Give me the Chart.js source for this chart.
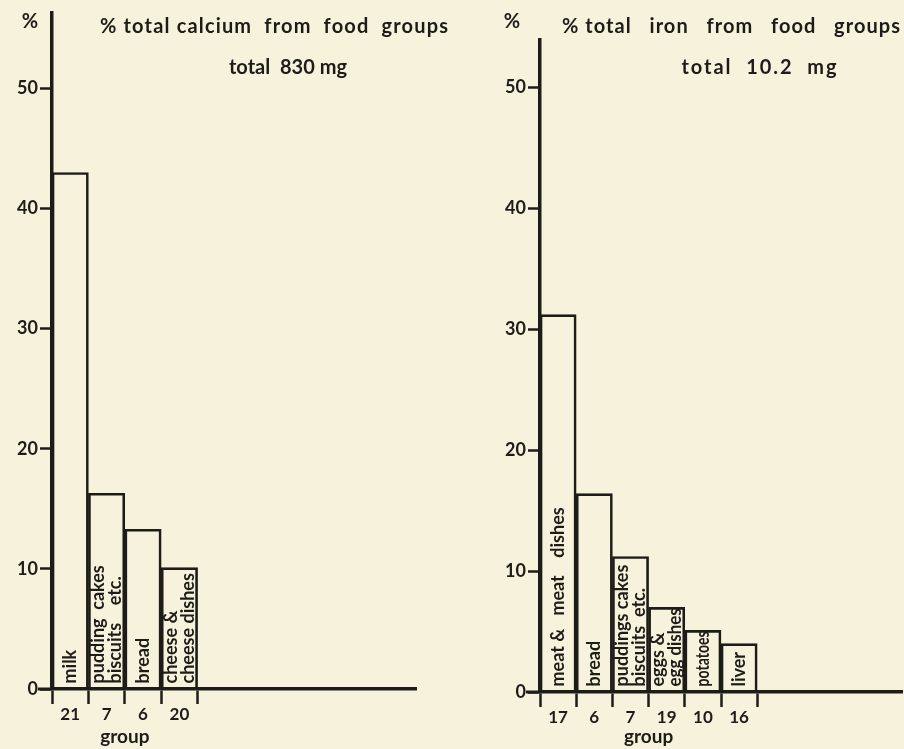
<!DOCTYPE html>
<html>
<head>
<meta charset="utf-8">
<script src="https://cdn.jsdelivr.net/npm/chart.js@4.4.0/dist/chart.umd.min.js"></script>
<style>
    html, body { margin: 0; padding: 0; background: #f7f2db; }
    #wrap { position: relative; width: 904px; height: 749px; overflow: hidden; }
    .panel { position: absolute; top: 0; }
    #calcium-box { left: 0; }
    #iron-box { left: 470px; }
</style>
</head>
<body>
<div id="wrap">
    <div class="panel" id="calcium-box"><canvas id="g-calcium" width="460" height="749"></canvas></div>
    <div class="panel" id="iron-box"><canvas id="g-iron" width="434" height="749"></canvas></div>
</div>
<script>
// calcium panel
const calciumGroups = ['21', '7', '6', '20'];
const calciumValues = [43, 16.3, 13.3, 10.1];
const calciumFoods = [
    ['milk'],
    ['pudding  cakes', 'biscuits    etc.'],
    ['bread'],
    ['cheese &', 'cheese dishes']
];

// iron panel
const ironGroups = ['17', '6', '7', '19', '10', '16'];
const ironValues = [31.2, 16.4, 11.2, 7.0, 5.1, 4.0];
const ironFoods = [
    ['meat &   meat    dishes'],
    ['bread'],
    ['puddings cakes', 'biscuits  etc.'],
    ['eggs &', 'egg dishes'],
    ['potatoes'],
    ['liver']
];

const yTicks = [0, 10, 20, 30, 40, 50];
const slots = 10;      // width of the x axis, in bars

const ink = '#1e1c19';
const face = 'Lato, "DejaVu Sans", sans-serif';

function spread(ctx, text, x, y, width) {
    // hand lettering is wider than the font, stretch it out a bit
    ctx.letterSpacing = '0px';
    const w = ctx.measureText(text).width;
    const ls = width > w ? (width - w) / Math.max(1, text.length - 1) : 0;
    ctx.letterSpacing = ls + 'px';
    ctx.fillText(text, x, y);
    ctx.letterSpacing = '0px';
}

const lettering = {
    id: 'lettering',
    afterDatasetsDraw(chart, args, o) {
        const ctx = chart.ctx;
        const meta = chart.getDatasetMeta(0);
        ctx.save();
        ctx.fillStyle = ink;
        ctx.font = '700 18px ' + face;
        meta.data.forEach((bar, i) => {
            const lines = o.foods[i] || [];
            const room = Math.max(40, bar.base - bar.y - 6);
            ctx.save();
            ctx.translate(bar.x, bar.base - 5);
            ctx.rotate(-Math.PI / 2);
            ctx.textAlign = 'left';
            ctx.textBaseline = 'middle';
            lines.forEach((t, j) => ctx.fillText(t, 0, (j - (lines.length - 1) / 2) * 17, room));
            ctx.restore();
        });
        ctx.restore();
    },
    afterDraw(chart, args, o) {
        const ctx = chart.ctx;
        const area = chart.chartArea;
        ctx.save();
        ctx.fillStyle = ink;
        ctx.strokeStyle = ink;
        ctx.textBaseline = 'middle';

        // x axis runs a little past the y axis
        ctx.lineWidth = 3;
        ctx.beginPath();
        ctx.moveTo(area.left - 14, area.bottom);
        ctx.lineTo(area.left, area.bottom);
        ctx.stroke();

        ctx.font = '700 20px ' + face;
        ctx.textAlign = 'left';
        spread(ctx, o.title, o.titleX, 27, o.titleW);
        ctx.textAlign = 'center';
        spread(ctx, o.subtitle, o.subX, 68, o.subW);

        ctx.font = '700 20px ' + face;
        ctx.fillText('%', o.pctX, 22);

        ctx.font = '700 19px ' + face;
        const meta = chart.getDatasetMeta(0).data;
        const mid = (meta[0].x + meta[meta.length - 1].x) / 2;
        ctx.fillText('group', mid, chart.height - 12);
        ctx.restore();
    }
};

function drawGraph(id, o) {
    const ctx = document.getElementById(id).getContext('2d');
    const labels = o.groups.concat(Array(slots - o.groups.length).fill(''));
    const n = o.groups.length;
    const edge = c => (c.index !== undefined && c.index <= n) ? ink : 'rgba(0,0,0,0)';

    return new Chart(ctx, {
        type: 'bar',
        data: {
            labels: labels,
            datasets: [{
                data: o.values,
                backgroundColor: 'rgba(0,0,0,0)',
                borderColor: ink,
                borderWidth: 2,
                borderSkipped: 'bottom',
                barPercentage: 1,
                categoryPercentage: 1
            }]
        },
        options: {
            responsive: false,
            animation: false,
            layout: { padding: o.pad },
            plugins: {
                legend: { display: false },
                tooltip: { enabled: false },
                lettering: o
            },
            scales: {
                x: {
                    grid: {
                        offset: true,
                        drawOnChartArea: false,
                        tickLength: 15,
                        tickWidth: 2.5,
                        color: edge,
                        tickColor: edge
                    },
                    border: { color: ink, width: 3.5 },
                    ticks: {
                        color: ink,
                        font: { family: face, size: 17, weight: '700' },
                        padding: 0,
                        maxRotation: 0,
                        autoSkip: false
                    },
                    afterFit: s => { s.height = o.xHeight; }
                },
                y: {
                    min: 0,
                    max: o.yMax,
                    afterBuildTicks: s => { s.ticks = yTicks.map(v => ({ value: v })); },
                    grid: {
                        drawOnChartArea: false,
                        tickLength: 12,
                        tickWidth: 2.5,
                        color: ink
                    },
                    border: { color: ink, width: 3.5 },
                    ticks: {
                        color: ink,
                        font: { family: face, size: 18, weight: '700' },
                        padding: 2
                    },
                    afterFit: s => { s.width = o.yWidth; }
                }
            }
        },
        plugins: [lettering]
    });
}

drawGraph('g-calcium', {
    groups: calciumGroups,
    values: calciumValues,
    foods: calciumFoods,
    title: '% total calcium  from  food  groups',
    subtitle: 'total  830 mg',
    titleX: 100, titleW: 348,
    subX: 288, subW: 118,
    pctX: 30,
    yMax: 56.3,
    yWidth: 52,
    xHeight: 60,
    pad: { left: 0, top: 10, right: 44, bottom: 0 }
});

drawGraph('g-iron', {
    groups: ironGroups,
    values: ironValues,
    foods: ironFoods,
    title: '% total   iron   from   food   groups',
    subtitle: 'total  10.2  mg',
    titleX: 92, titleW: 338,
    subX: 290, subW: 155,
    pctX: 42,
    yMax: 53.9,
    yWidth: 70,
    xHeight: 57,
    pad: { left: 0, top: 40, right: 2, bottom: 0 }
});
</script>
</body>
</html>
